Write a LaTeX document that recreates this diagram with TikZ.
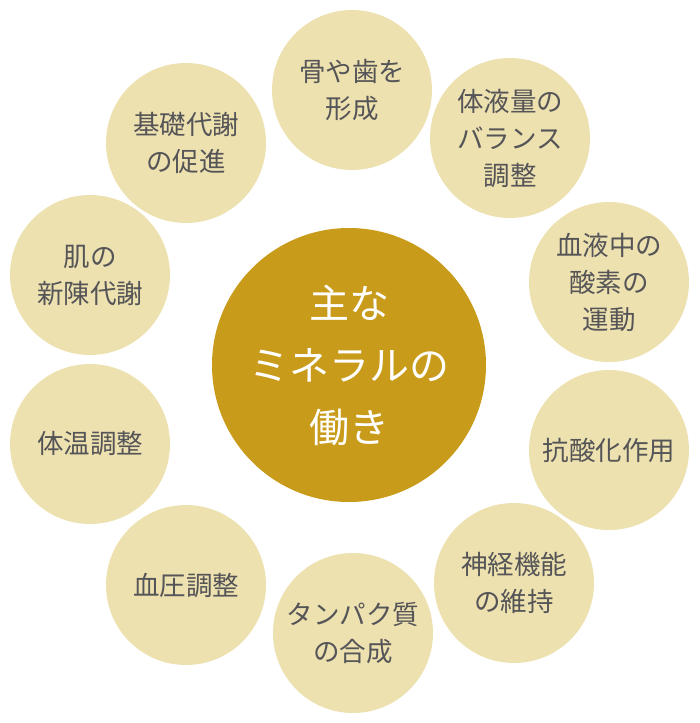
\documentclass[tikz,border=0pt]{standalone}
\usepackage{fontspec}
\newfontfamily\cjk{Noto Sans CJK JP}
\definecolor{outerfill}{HTML}{EDE1B0}
\definecolor{centerfill}{HTML}{C99B1B}
\definecolor{txtgray}{HTML}{555457}
\begin{document}
\begin{tikzpicture}[x=1pt,y=-1pt,
  outer/.style={circle,fill=outerfill,minimum size=160pt,inner sep=0pt,
    text=txtgray,align=center,font=\cjk\fontsize{26.5}{37}\selectfont},
  hub/.style={circle,fill=centerfill,minimum size=274pt,inner sep=0pt,
    text=white,align=center,font=\cjk\fontsize{40}{62}\selectfont}]
\useasboundingbox (0,0) rectangle (700,723);
\node[hub] (c) at (349,365) {主な\\ミネラルの\\働き};
\node[outer] (n1) at (352,90) {骨や歯を\\形成};
\node[outer] (n2) at (510,138) {体液量の\\バランス\\調整};
\node[outer] (n3) at (609,282) {血液中の\\酸素の\\運動};
\node[outer] (n4) at (609,450) {抗酸化作用};
\node[outer] (n5) at (514,583) {神経機能\\の維持};
\node[outer] (n6) at (353,633) {タンパク質\\の合成};
\node[outer] (n7) at (186,585) {血圧調整};
\node[outer] (n8) at (90,444) {体温調整};
\node[outer] (n9) at (90,275) {肌の\\新陳代謝};
\node[outer] (n10) at (186,143) {基礎代謝\\の促進};
\end{tikzpicture}
\end{document}
